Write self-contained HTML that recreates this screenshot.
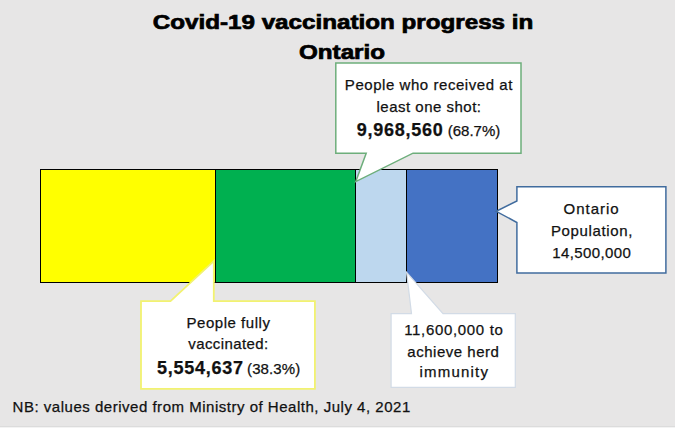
<!DOCTYPE html>
<html>
<head>
<meta charset="utf-8">
<style>
html,body{margin:0;padding:0;}
body{width:675px;height:428px;background:#E7E6E6;position:relative;overflow:hidden;font-family:"Liberation Sans",sans-serif;}
svg{position:absolute;left:0;top:0;}
.t{position:absolute;white-space:nowrap;font-size:15px;line-height:15px;color:#111;text-align:center;width:300px;-webkit-text-stroke:0.25px #111;}
.t b{font-size:18px;line-height:0;font-weight:700;}
.h{position:absolute;white-space:nowrap;font-size:20px;line-height:20px;font-weight:700;color:#000;text-align:center;width:400px;transform:scaleX(1.21);-webkit-text-stroke:0.7px #000;transform-origin:50% 50%;}
</style>
</head>
<body>
<svg width="675" height="428" viewBox="0 0 675 428">
  <!-- bars -->
  <rect x="41" y="170" width="174" height="112" fill="#FFFF00"/>
  <rect x="216" y="170" width="139" height="112" fill="#00B050"/>
  <rect x="356" y="170" width="50" height="112" fill="#BDD7EE"/>
  <rect x="407" y="170" width="90" height="112" fill="#4472C4"/>
  <rect x="40.5" y="169.5" width="457" height="113" fill="none" stroke="#000" stroke-width="1"/>
  <line x1="215.5" y1="169" x2="215.5" y2="283" stroke="#000" stroke-width="1"/>
  <line x1="355.5" y1="169" x2="355.5" y2="283" stroke="#000" stroke-width="1"/>
  <line x1="406.5" y1="169" x2="406.5" y2="283" stroke="#000" stroke-width="1"/>
  <!-- top callout (green) -->
  <path d="M335.8,63 H521 V153.2 H413 L355.8,181.6 L366.2,153.2 H335.8 Z" fill="#FFFFFF" stroke="#6DAE7B" stroke-width="1.5"/>
  <!-- Ontario callout (blue) -->
  <path d="M516.9,186.7 H665.9 V273.0 H516.9 V222.5 L496.2,211.3 L516.9,201 Z" fill="#FFFFFF" stroke="#416C9E" stroke-width="1.5"/>
  <!-- fully vaccinated callout (yellow) -->
  <path d="M141.0,301.2 H170.5 L213.8,261 V301.2 H314.9 V388.8 H141.0 Z" fill="#FFFFFF" stroke="#F2F270" stroke-width="1.8"/>
  <!-- herd immunity callout (pale blue) -->
  <path d="M391.1,313.6 H411.5 L406.6,272.4 L443,313.6 H515.3 V387.4 H391.1 Z" fill="#FFFFFF" stroke="#D2DBE6" stroke-width="1.2"/>
</svg>

<div class="h" style="left:142.8px;top:11.7px;">Covid-19 vaccination progress in</div>
<div class="h" style="left:142px;top:41.6px;">Ontario</div>

<div class="t" style="left:278.9px;top:76.9px;letter-spacing:0.55px;">People who received at</div>
<div class="t" style="left:279px;top:99px;letter-spacing:0.5px;">least one shot:</div>
<div class="t" style="left:278.5px;top:123.3px;"><b style="letter-spacing:0.75px">9,968,560</b> (68.7%)</div>

<div class="t" style="left:441.6px;top:200.8px;letter-spacing:1px;">Ontario</div>
<div class="t" style="left:442px;top:222.7px;letter-spacing:0.65px;">Population,</div>
<div class="t" style="left:441.8px;top:245px;letter-spacing:0.4px;">14,500,000</div>

<div class="t" style="left:78.5px;top:315.3px;letter-spacing:0.53px;">People fully</div>
<div class="t" style="left:78.5px;top:336.1px;letter-spacing:0.41px;">vaccinated:</div>
<div class="t" style="left:78.6px;top:360.5px;"><b style="letter-spacing:0.75px">5,554,637</b><span style="letter-spacing:0.1px;word-spacing:-0.9px"> (38.3%)</span></div>

<div class="t" style="left:303.9px;top:321.9px;letter-spacing:0.67px;">11,600,000 to</div>
<div class="t" style="left:303.35px;top:343.5px;letter-spacing:0.51px;">achieve herd</div>
<div class="t" style="left:304.35px;top:363.6px;letter-spacing:1.21px;">immunity</div>

<div class="t" style="left:12.6px;top:399.2px;text-align:left;width:auto;letter-spacing:0.515px;">NB: values derived from Ministry of Health, July 4, 2021</div>
<div style="position:absolute;left:0;top:426px;width:675px;height:1px;background:#DCDCDC;"></div>
<div style="position:absolute;left:0;top:427px;width:675px;height:1px;background:#F3F3F3;"></div>
</body>
</html>
